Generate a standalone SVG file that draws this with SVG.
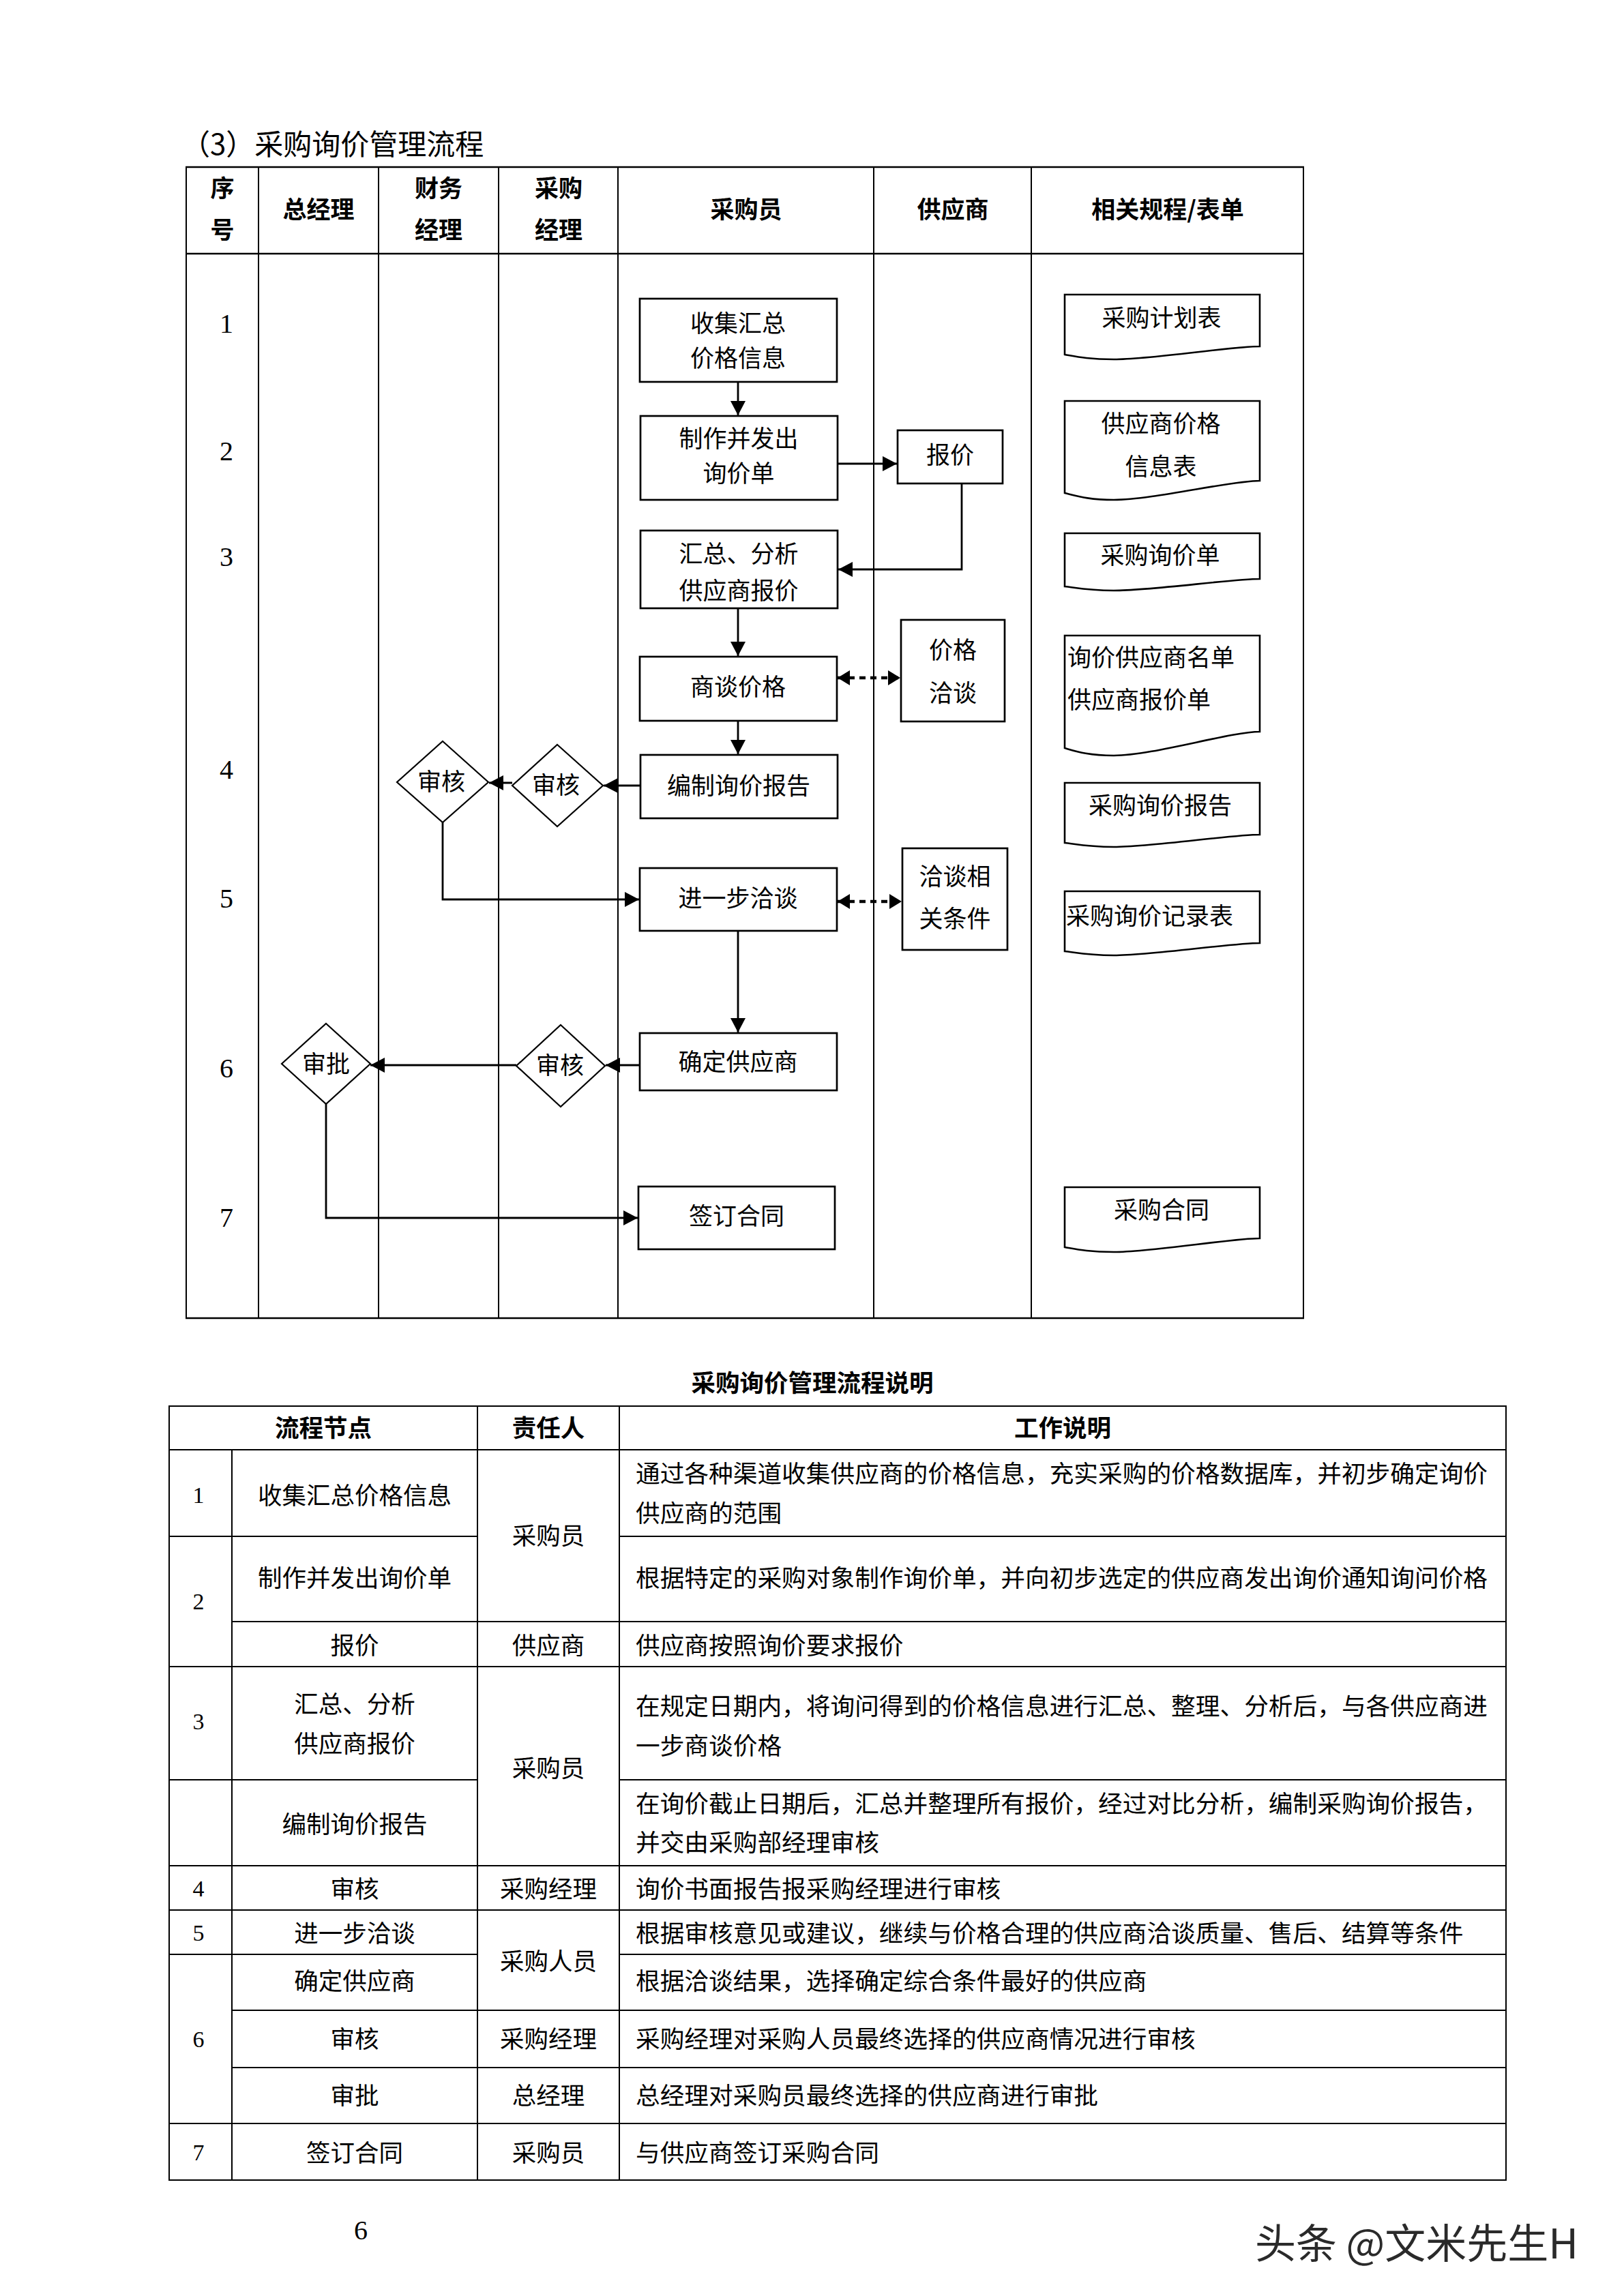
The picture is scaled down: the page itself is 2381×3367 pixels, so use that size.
<svg xmlns="http://www.w3.org/2000/svg" width="2381" height="3367" viewBox="0 0 2381 3367">
<style>
.bg{fill:#fff}
.grid{stroke:#000;stroke-width:2;fill:none}
.gridh{stroke:#000;stroke-width:2.6;fill:none}
.box{fill:#fff;stroke:#000;stroke-width:2.7}
.dia{fill:#fff;stroke:#000;stroke-width:2.2}
.doc{fill:#fff;stroke:#000;stroke-width:2.6}
.ln{stroke:#000;stroke-width:2.8;fill:none}
.dash{stroke:#000;stroke-width:4.5;fill:none;stroke-dasharray:9 7}
.t,.tl,.tt,.td{font-family:"Noto Sans CJK SC","Liberation Sans",sans-serif;dominant-baseline:central;fill:#000;transform:translateY(-4px)}
.t{font-size:35px;text-anchor:middle}
.tl{font-size:35px;text-anchor:start}
.tt{font-size:35.5px;text-anchor:middle}
.td{font-size:35.7px;text-anchor:start}
.b{font-weight:bold}
.n,.nt{font-family:"Liberation Serif","DejaVu Serif",serif;text-anchor:middle;dominant-baseline:central;fill:#000;transform:translateY(-2px)}
.n{font-size:40px}
.nt{font-size:34px}
</style>
<defs>
<marker id="ah" viewBox="0 0 10 10" refX="10" refY="5" markerWidth="21" markerHeight="22" markerUnits="userSpaceOnUse" orient="auto" preserveAspectRatio="none"><path d="M0,0L10,5L0,10z" fill="#000"/></marker>
<marker id="ad" viewBox="0 0 10 10" refX="10" refY="5" markerWidth="18" markerHeight="22" markerUnits="userSpaceOnUse" orient="auto-start-reverse" preserveAspectRatio="none"><path d="M0,0L10,5L0,10z" fill="#000"/></marker>
</defs>
<rect class="bg" x="0" y="0" width="2381" height="3367"/>

<text class="tl" x="266" y="212" style="font-size:42px">（3）采购询价管理流程</text>

<g id="swimlane-grid">
<line class="gridh" x1="272" y1="245" x2="1912" y2="245"/>
<line class="gridh" x1="272" y1="372" x2="1912" y2="372"/>
<line class="gridh" x1="272" y1="1933" x2="1912" y2="1933"/>
<line class="grid" x1="273" y1="245" x2="273" y2="1933"/>
<line class="grid" x1="379" y1="245" x2="379" y2="1933"/>
<line class="grid" x1="555" y1="245" x2="555" y2="1933"/>
<line class="grid" x1="731" y1="245" x2="731" y2="1933"/>
<line class="grid" x1="906" y1="245" x2="906" y2="1933"/>
<line class="grid" x1="1281" y1="245" x2="1281" y2="1933"/>
<line class="grid" x1="1512" y1="245" x2="1512" y2="1933"/>
<line class="grid" x1="1911" y1="245" x2="1911" y2="1933"/>
</g>

<g id="lane-headers">
<text class="t b" x="326" y="277">序</text>
<text class="t b" x="326" y="338">号</text>
<text class="t b" x="467" y="308">总经理</text>
<text class="t b" x="643" y="277">财务</text>
<text class="t b" x="643" y="338">经理</text>
<text class="t b" x="819" y="277">采购</text>
<text class="t b" x="819" y="338">经理</text>
<text class="t b" x="1094" y="308">采购员</text>
<text class="t b" x="1397" y="308">供应商</text>
<text class="t b" x="1712" y="308">相关规程/表单</text>
</g>

<g id="row-numbers">
<text class="n" x="332" y="476">1</text>
<text class="n" x="332" y="663">2</text>
<text class="n" x="332" y="818">3</text>
<text class="n" x="332" y="1130">4</text>
<text class="n" x="332" y="1319">5</text>
<text class="n" x="332" y="1568">6</text>
<text class="n" x="332" y="1787">7</text>
</g>

<g id="connectors">
<line class="ln" x1="1082" y1="561" x2="1082" y2="609" marker-end="url(#ah)"/>
<line class="ln" x1="1229" y1="680" x2="1315" y2="680" marker-end="url(#ah)"/>
<polyline class="ln" points="1410,709 1410,835 1229,835" marker-end="url(#ah)"/>
<line class="ln" x1="1082" y1="893" x2="1082" y2="962" marker-end="url(#ah)"/>
<line class="dash" x1="1228" y1="994" x2="1320" y2="994" marker-start="url(#ad)" marker-end="url(#ad)"/>
<line class="ln" x1="1082" y1="1058" x2="1082" y2="1106" marker-end="url(#ah)"/>
<line class="ln" x1="938" y1="1152" x2="885" y2="1152" marker-end="url(#ah)"/>
<line class="ln" x1="751" y1="1148" x2="717" y2="1148" marker-end="url(#ah)"/>
<polyline class="ln" points="649,1206 649,1319 937,1319" marker-end="url(#ah)"/>
<line class="dash" x1="1228" y1="1322" x2="1322" y2="1322" marker-start="url(#ad)" marker-end="url(#ad)"/>
<line class="ln" x1="1082" y1="1366" x2="1082" y2="1514" marker-end="url(#ah)"/>
<line class="ln" x1="938" y1="1562" x2="888" y2="1562" marker-end="url(#ah)"/>
<line class="ln" x1="757" y1="1562" x2="543" y2="1562" marker-end="url(#ah)"/>
<polyline class="ln" points="478,1619 478,1786 935,1786" marker-end="url(#ah)"/>
</g>

<g id="n-collect">
<rect class="box" x="938" y="438" width="289" height="122"/>
<text class="t" x="1082" y="475">收集汇总</text>
<text class="t" x="1082" y="526">价格信息</text>
</g>
<g id="n-make">
<rect class="box" x="939" y="610" width="289" height="123"/>
<text class="t" x="1083" y="644">制作并发出</text>
<text class="t" x="1083" y="695">询价单</text>
</g>
<g id="n-quote">
<rect class="box" x="1316" y="631" width="154" height="78"/>
<text class="t" x="1393" y="668">报价</text>
</g>
<g id="n-summary">
<rect class="box" x="939" y="778" width="289" height="114"/>
<text class="t" x="1083" y="813">汇总、分析</text>
<text class="t" x="1083" y="867">供应商报价</text>
</g>
<g id="n-negotiate">
<rect class="box" x="938" y="963" width="289" height="94"/>
<text class="t" x="1082" y="1008">商谈价格</text>
</g>
<g id="n-price-talk">
<rect class="box" x="1321" y="909" width="152" height="149"/>
<text class="t" x="1397" y="954">价格</text>
<text class="t" x="1397" y="1017">洽谈</text>
</g>
<g id="n-report">
<rect class="box" x="939" y="1107" width="289" height="93"/>
<text class="t" x="1083" y="1153">编制询价报告</text>
</g>
<g id="n-review-pm">
<polygon class="dia" points="817,1092 884,1152 817,1212 751,1152"/>
<text class="t" x="815" y="1152">审核</text>
</g>
<g id="n-review-fm">
<polygon class="dia" points="649,1087 716,1147 649,1206 582,1147"/>
<text class="t" x="647" y="1147">审核</text>
</g>
<g id="n-further">
<rect class="box" x="938" y="1273" width="289" height="92"/>
<text class="t" x="1082" y="1318">进一步洽谈</text>
</g>
<g id="n-conditions">
<rect class="box" x="1323" y="1244" width="154" height="149"/>
<text class="t" x="1400" y="1286">洽谈相</text>
<text class="t" x="1400" y="1348">关条件</text>
</g>
<g id="n-decide">
<rect class="box" x="938" y="1515" width="289" height="84"/>
<text class="t" x="1082" y="1558">确定供应商</text>
</g>
<g id="n-review6">
<polygon class="dia" points="822,1503 887,1563 822,1623 757,1563"/>
<text class="t" x="821" y="1563">审核</text>
</g>
<g id="n-approve">
<polygon class="dia" points="478,1501 543,1560 478,1619 413,1560"/>
<text class="t" x="478" y="1561">审批</text>
</g>
<g id="n-sign">
<rect class="box" x="936" y="1740" width="288" height="92"/>
<text class="t" x="1080" y="1784">签订合同</text>
</g>

<g id="d-plan">
<path class="doc" d="M1561,432H1847V508C1804,508 1690,527 1633,527C1595,527 1578,523 1561,520Z"/>
<text class="t" x="1703" y="467">采购计划表</text>
</g>
<g id="d-supplier-price">
<path class="doc" d="M1561,588H1847V705C1804,705 1690,733 1633,733C1595,733 1578,727 1561,723Z"/>
<text class="t" x="1702" y="622">供应商价格</text>
<text class="t" x="1702" y="685">信息表</text>
</g>
<g id="d-inquiry">
<path class="doc" d="M1561,782H1847V849C1804,849 1690,866 1633,866C1595,866 1578,862 1561,860Z"/>
<text class="t" x="1701" y="815">采购询价单</text>
</g>
<g id="d-lists">
<path class="doc" d="M1561,932H1847V1073C1804,1073 1690,1108 1633,1108C1595,1108 1578,1102 1561,1097Z"/>
<text class="tl" x="1565" y="965">询价供应商名单</text>
<text class="tl" x="1565" y="1027">供应商报价单</text>
</g>
<g id="d-report">
<path class="doc" d="M1561,1148H1847V1224C1804,1224 1690,1242 1633,1242C1595,1242 1578,1238 1561,1236Z"/>
<text class="t" x="1701" y="1182">采购询价报告</text>
</g>
<g id="d-record">
<path class="doc" d="M1561,1307H1847V1383C1804,1383 1690,1401 1633,1401C1595,1401 1578,1397 1561,1395Z"/>
<text class="tl" x="1563" y="1344">采购询价记录表</text>
</g>
<g id="d-contract">
<path class="doc" d="M1561,1741H1847V1816C1804,1816 1690,1836 1633,1836C1595,1836 1578,1832 1561,1829Z"/>
<text class="t" x="1703" y="1775">采购合同</text>
</g>

<text class="tt b" x="1191" y="2029">采购询价管理流程说明</text>

<g id="table-grid">
<line class="grid" x1="247" y1="2062" x2="2209" y2="2062"/>
<line class="grid" x1="247" y1="2126" x2="2209" y2="2126"/>
<line class="grid" x1="247" y1="2253" x2="700" y2="2253"/>
<line class="grid" x1="908" y1="2253" x2="2209" y2="2253"/>
<line class="grid" x1="340" y1="2378" x2="2209" y2="2378"/>
<line class="grid" x1="247" y1="2444" x2="2209" y2="2444"/>
<line class="grid" x1="247" y1="2610" x2="700" y2="2610"/>
<line class="grid" x1="908" y1="2610" x2="2209" y2="2610"/>
<line class="grid" x1="247" y1="2736" x2="2209" y2="2736"/>
<line class="grid" x1="247" y1="2801" x2="2209" y2="2801"/>
<line class="grid" x1="247" y1="2866" x2="700" y2="2866"/>
<line class="grid" x1="908" y1="2866" x2="2209" y2="2866"/>
<line class="grid" x1="340" y1="2948" x2="2209" y2="2948"/>
<line class="grid" x1="340" y1="3032" x2="2209" y2="3032"/>
<line class="grid" x1="247" y1="3114" x2="2209" y2="3114"/>
<line class="grid" x1="247" y1="3197" x2="2209" y2="3197"/>
<line class="grid" x1="248" y1="2062" x2="248" y2="3197"/>
<line class="grid" x1="340" y1="2126" x2="340" y2="3197"/>
<line class="grid" x1="700" y1="2062" x2="700" y2="3197"/>
<line class="grid" x1="908" y1="2062" x2="908" y2="3197"/>
<line class="grid" x1="2208" y1="2062" x2="2208" y2="3197"/>
</g>

<g id="table-text">
<text class="tt b" x="474" y="2095">流程节点</text>
<text class="tt b" x="804" y="2095">责任人</text>
<text class="tt b" x="1558" y="2095">工作说明</text>

<text class="nt" x="291" y="2194">1</text>
<text class="tt" x="520" y="2194">收集汇总价格信息</text>
<text class="tt" x="804" y="2253">采购员</text>
<text class="td" x="932" y="2162">通过各种渠道收集供应商的价格信息，充实采购的价格数据库，并初步确定询价</text>
<text class="td" x="932" y="2220">供应商的范围</text>

<text class="nt" x="291" y="2350">2</text>
<text class="tt" x="520" y="2315">制作并发出询价单</text>
<text class="td" x="932" y="2315">根据特定的采购对象制作询价单，并向初步选定的供应商发出询价通知询问价格</text>
<text class="tt" x="520" y="2414">报价</text>
<text class="tt" x="804" y="2414">供应商</text>
<text class="td" x="932" y="2414">供应商按照询价要求报价</text>

<text class="nt" x="291" y="2526">3</text>
<text class="tt" x="520" y="2500">汇总、分析</text>
<text class="tt" x="520" y="2558">供应商报价</text>
<text class="tt" x="804" y="2594">采购员</text>
<text class="td" x="932" y="2503">在规定日期内，将询问得到的价格信息进行汇总、整理、分析后，与各供应商进</text>
<text class="td" x="932" y="2561">一步商谈价格</text>
<text class="tt" x="520" y="2676">编制询价报告</text>
<text class="td" x="932" y="2646">在询价截止日期后，汇总并整理所有报价，经过对比分析，编制采购询价报告，</text>
<text class="td" x="932" y="2703">并交由采购部经理审核</text>

<text class="nt" x="291" y="2771">4</text>
<text class="tt" x="520" y="2771">审核</text>
<text class="tt" x="804" y="2771">采购经理</text>
<text class="td" x="932" y="2771">询价书面报告报采购经理进行审核</text>

<text class="nt" x="291" y="2836">5</text>
<text class="tt" x="520" y="2836">进一步洽谈</text>
<text class="tt" x="804" y="2877">采购人员</text>
<text class="td" x="932" y="2836">根据审核意见或建议，继续与价格合理的供应商洽谈质量、售后、结算等条件</text>

<text class="nt" x="291" y="2992">6</text>
<text class="tt" x="520" y="2906">确定供应商</text>
<text class="td" x="932" y="2906">根据洽谈结果，选择确定综合条件最好的供应商</text>
<text class="tt" x="520" y="2991">审核</text>
<text class="tt" x="804" y="2991">采购经理</text>
<text class="td" x="932" y="2991">采购经理对采购人员最终选择的供应商情况进行审核</text>
<text class="tt" x="520" y="3074">审批</text>
<text class="tt" x="804" y="3074">总经理</text>
<text class="td" x="932" y="3074">总经理对采购员最终选择的供应商进行审批</text>

<text class="nt" x="291" y="3158">7</text>
<text class="tt" x="520" y="3158">签订合同</text>
<text class="tt" x="804" y="3158">采购员</text>
<text class="td" x="932" y="3158">与供应商签订采购合同</text>
</g>

<text class="n" x="529" y="3272">6</text>
<text x="1840" y="3285" style="font-family:'Noto Sans CJK SC','Liberation Sans',sans-serif;font-size:60px;dominant-baseline:central;fill:#2a2a2a">头条 @文米先生H</text>
</svg>
